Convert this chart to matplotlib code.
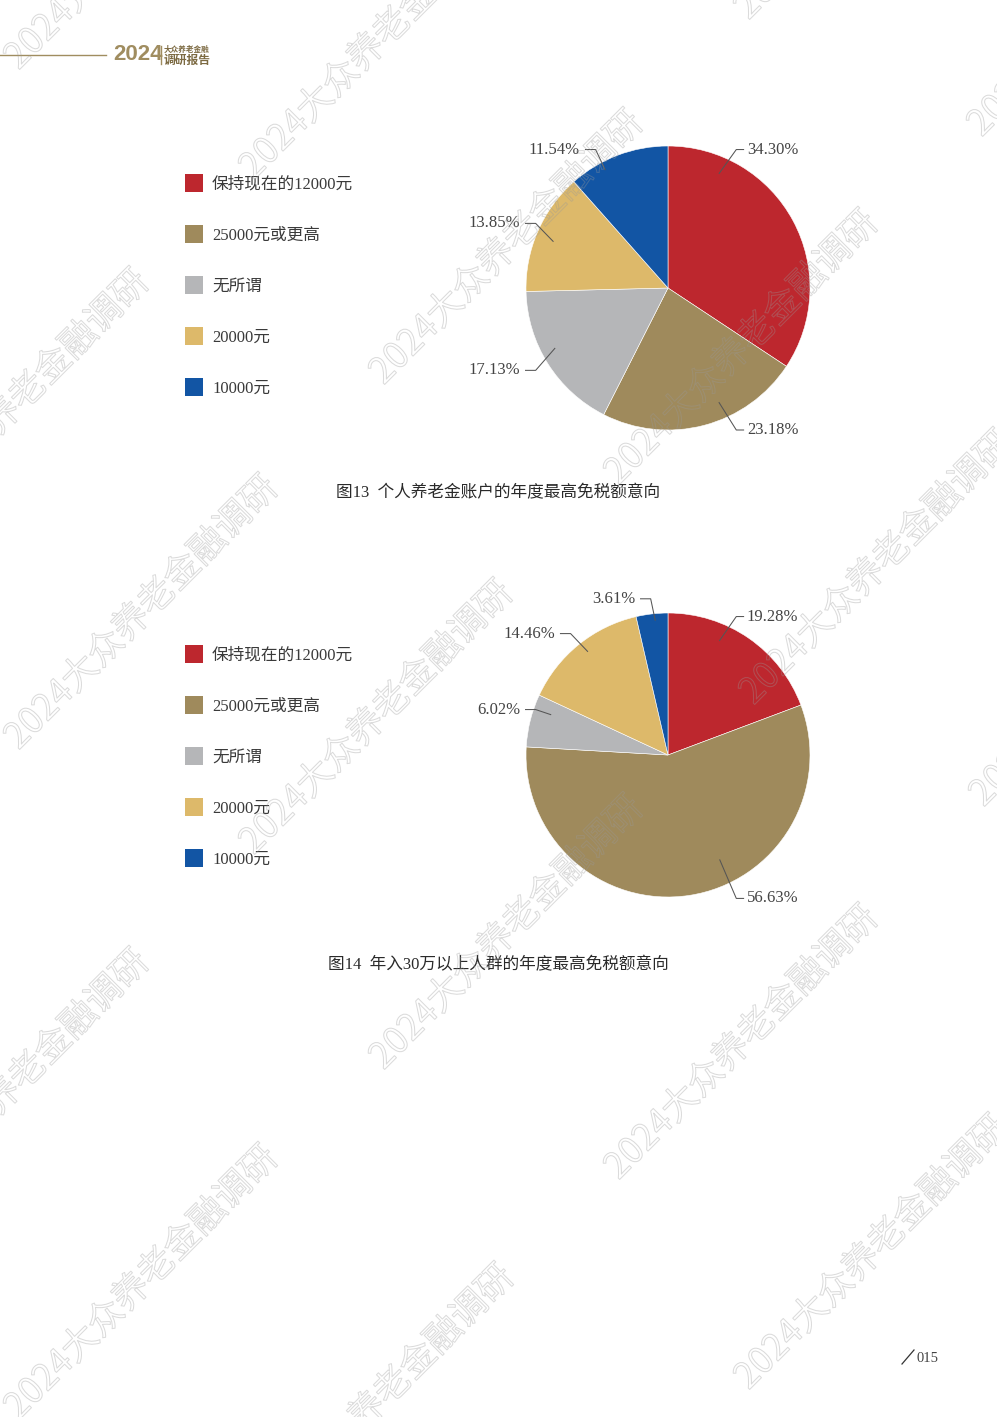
import numpy as np
import matplotlib
matplotlib.use("Agg")
import matplotlib.pyplot as plt
import matplotlib.patheffects as pe
from matplotlib.patches import Rectangle

plt.rcParams['font.family'] = ['Liberation Serif', 'Noto Sans CJK SC']

# 数据
categories = ['保持现在的12000元', '25000元或更高', '无所谓', '20000元', '10000元']
colors = ['#BD272E', '#9F8A5C', '#B5B6B8', '#DDB96A', '#1255A4']

values_13 = [34.30, 23.18, 17.13, 13.85, 11.54]
values_14 = [19.28, 56.63, 6.02, 14.46, 3.61]

title_13 = '图13  个人养老金账户的年度最高免税额意向'
title_14 = '图14  年入30万以上人群的年度最高免税额意向'

# 标签位置（饼图半径为单位）
label_pos_13 = [(0.556, 0.975), (0.556, -1.0), (-1.042, -0.58), (-1.042, 0.455), (-0.62, 0.975)]
anchor_13 = [(66, 0.88), (-66, 0.88), (-152, 0.9), (158, 0.87), (118, 0.94)]
label_pos_14 = [(0.556, 0.975), (0.556, -1.01), (-1.042, 0.32), (-0.796, 0.855), (-0.232, 1.10)]
anchor_14 = [(65.8, 0.88), (-63.7, 0.82), (161, 0.87), (127.8, 0.92), (95.4, 0.95)]

W, H = 997, 1417
fig = plt.figure(figsize=(W / 100, H / 100), dpi=100)

R = 142
half = 260


def draw_pie(cx, cy, values, label_pos, anchors):
    ax = fig.add_axes([(cx - half) / W, 1 - (cy + half) / H, 2 * half / W, 2 * half / H])
    ax.pie(values, colors=colors, startangle=90, counterclock=False, radius=1,
           wedgeprops=dict(edgecolor='white', linewidth=0.4))
    lim = half / R
    ax.set_xlim(-lim, lim)
    ax.set_ylim(-lim, lim)
    ax.set_aspect('equal')
    ax.axis('off')
    for v, (lx, ly), (ang, rr) in zip(values, label_pos, anchors):
        a = np.deg2rad(ang)
        px, py = rr * np.cos(a), rr * np.sin(a)
        if lx > 0:
            ex = lx - 0.075
            hx = lx - 0.02
            ha = 'left'
        else:
            ex = lx + 0.11
            hx = lx + 0.035
            ha = 'right'
        ax.plot([px, ex, hx], [py, ly, ly], color='#555555', lw=0.75, solid_capstyle='butt')
        ax.text(lx, ly, f'{v:.2f}%', ha=ha, va='center', fontsize=12,
                color='#444444', family='Liberation Serif')
    return ax


draw_pie(668, 288, values_13, label_pos_13, anchor_13)
draw_pie(668, 755, values_14, label_pos_14, anchor_14)

# 页面覆盖层（像素坐标）
ov = fig.add_axes([0, 0, 1, 1])
ov.set_xlim(0, W)
ov.set_ylim(H, 0)
ov.axis('off')
ov.patch.set_alpha(0)

# 图例
for top in (183, 654):
    for i, (c, name) in enumerate(zip(colors, categories)):
        y = top + i * 51
        ov.add_patch(Rectangle((185, y - 9), 18, 18, color=c, lw=0))
        ov.text(212, y + 2, name, ha='left', va='center', fontsize=12, color='#3a3a3a')

# 图题
ov.text(498, 493, title_13, ha='center', va='center', fontsize=12, color='#2a2a2a')
ov.text(498, 965, title_14, ha='center', va='center', fontsize=12, color='#2a2a2a')

# 页眉
gold = '#A08D60'
ov.plot([0, 106], [55, 55], color=gold, lw=1)
ov.text(113, 55, '2024', ha='left', va='center', fontsize=16, fontweight='bold',
        color=gold, family='Liberation Sans')
ov.plot([161, 161], [46, 64], color=gold, lw=1)
ov.text(164, 49, '大众养老金融', ha='left', va='center', fontsize=5.5, color='#7c6a42',
        family='Noto Sans CJK SC', fontweight='bold')
ov.text(164, 60, '调研报告', ha='left', va='center', fontsize=8.5, color='#7c6a42',
        family='Noto Sans CJK SC', fontweight='bold')

# 页码
ov.plot([902, 914], [1364, 1350], color='#333333', lw=0.9)
ov.text(916, 1358, '015', ha='left', va='center', fontsize=10.5, color='#444444')

# 水印
wm_text = '2024大众养老金融调研'
wm_centers = [(142, -67), (377, 43), (872, -117), (1105, 0), (13, 407), (507, 248),
              (742, 348), (877, 568), (142, 613), (377, 718), (1107, 670), (507, 933),
              (13, 1087), (742, 1043), (872, 1253), (142, 1283), (378, 1402)]
for x, y in wm_centers:
    ov.text(x, y, wm_text, rotation=45, ha='center', va='center', fontsize=26,
            family='Noto Sans CJK SC', color=(1, 1, 1, 0),
            path_effects=[pe.Stroke(linewidth=0.75, foreground=(0.6, 0.6, 0.6, 0.35))])

fig.savefig('out.png', dpi=100, facecolor='white')
